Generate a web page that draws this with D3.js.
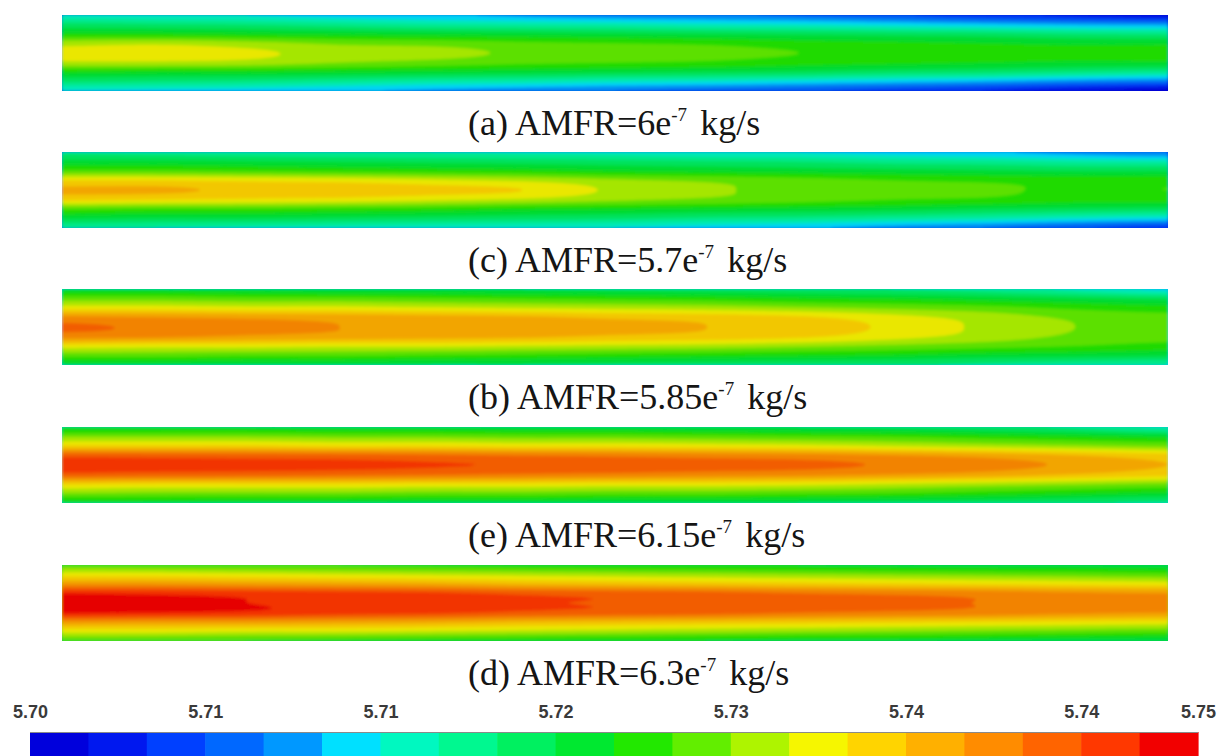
<!DOCTYPE html>
<html>
<head>
<meta charset="utf-8">
<script src="https://cdn.jsdelivr.net/npm/d3@7"></script>
<style>
  html, body { margin: 0; padding: 0; background: #ffffff; }
  svg { display: block; }
</style>
</head>
<body>
<svg id="chart" width="1223" height="756"></svg>
<script>
// ---- Panel captions (in drawing order, top to bottom) ----
const panelTags   = ["(a)", "(c)", "(b)", "(e)", "(d)"];
const amfrMantissa = ["6", "5.7", "5.85", "6.15", "6.3"];
const amfrExponent = "-7";
const amfrUnit = "kg/s";

// ---- Colour legend ----
const legendMin = 5.70;
const legendMax = 5.75;
const legendStep = 0.0025;                     // 20 contour levels
const legendTickValues = [5.70, 5.7075, 5.715, 5.7225, 5.73, 5.7375, 5.745, 5.75];
const legendTickLabels = ["5.70", "5.71", "5.71", "5.72", "5.73", "5.74", "5.74", "5.75"];
const levelColors = [
  "#0000dc", "#0018ef", "#0040ff", "#0068ff", "#0098ff",
  "#00e0ff", "#00f8c0", "#00f890", "#00f060", "#00e830",
  "#22e800", "#62ee00", "#aef400", "#f6f600", "#ffd400",
  "#ffb000", "#ff8c00", "#ff6400", "#ff3800", "#f20000"
];

// ---- Field samples: 9 radial rows (wall -> axis -> wall) x 13 axial stations ----
const axialStations  = [0, 1, 2, 3, 4, 5, 6, 7, 8, 9, 10, 11, 12];
const radialStations = [0, 1, 2, 3, 4, 5, 6, 7, 8];

const fieldA = [
  [5.7160, 5.7155, 5.7150, 5.7140, 5.7130, 5.7120, 5.7110, 5.7105, 5.7095, 5.7080, 5.7060, 5.7045, 5.7030],
  [5.7210, 5.7205, 5.7200, 5.7190, 5.7180, 5.7175, 5.7170, 5.7160, 5.7155, 5.7145, 5.7135, 5.7125, 5.7120],
  [5.7255, 5.7255, 5.7250, 5.7245, 5.7240, 5.7235, 5.7230, 5.7225, 5.7220, 5.7215, 5.7210, 5.7200, 5.7195],
  [5.7315, 5.7320, 5.7310, 5.7295, 5.7290, 5.7280, 5.7275, 5.7270, 5.7260, 5.7255, 5.7250, 5.7245, 5.7245],
  [5.7335, 5.7335, 5.7330, 5.7315, 5.7310, 5.7295, 5.7290, 5.7285, 5.7275, 5.7265, 5.7260, 5.7260, 5.7265],
  [5.7320, 5.7320, 5.7315, 5.7300, 5.7290, 5.7280, 5.7275, 5.7270, 5.7260, 5.7255, 5.7250, 5.7245, 5.7245],
  [5.7255, 5.7250, 5.7250, 5.7245, 5.7240, 5.7235, 5.7230, 5.7225, 5.7220, 5.7210, 5.7205, 5.7195, 5.7185],
  [5.7205, 5.7200, 5.7195, 5.7185, 5.7175, 5.7170, 5.7160, 5.7155, 5.7145, 5.7135, 5.7125, 5.7110, 5.7100],
  [5.7150, 5.7145, 5.7140, 5.7130, 5.7120, 5.7110, 5.7100, 5.7090, 5.7080, 5.7065, 5.7050, 5.7030, 5.7015]
];

const fieldC = [
  [5.7195, 5.7190, 5.7185, 5.7180, 5.7175, 5.7170, 5.7165, 5.7155, 5.7150, 5.7140, 5.7130, 5.7115, 5.7100],
  [5.7235, 5.7235, 5.7230, 5.7225, 5.7220, 5.7215, 5.7210, 5.7205, 5.7200, 5.7190, 5.7185, 5.7175, 5.7170],
  [5.7280, 5.7280, 5.7275, 5.7270, 5.7265, 5.7260, 5.7250, 5.7245, 5.7240, 5.7235, 5.7230, 5.7225, 5.7225],
  [5.7350, 5.7350, 5.7345, 5.7340, 5.7330, 5.7320, 5.7305, 5.7295, 5.7285, 5.7275, 5.7270, 5.7265, 5.7265],
  [5.7380, 5.7380, 5.7370, 5.7370, 5.7360, 5.7350, 5.7320, 5.7305, 5.7290, 5.7285, 5.7280, 5.7270, 5.7275],
  [5.7355, 5.7350, 5.7345, 5.7340, 5.7330, 5.7320, 5.7305, 5.7295, 5.7285, 5.7275, 5.7270, 5.7260, 5.7260],
  [5.7280, 5.7275, 5.7275, 5.7270, 5.7265, 5.7255, 5.7250, 5.7245, 5.7240, 5.7235, 5.7225, 5.7220, 5.7215],
  [5.7230, 5.7225, 5.7225, 5.7220, 5.7215, 5.7210, 5.7205, 5.7195, 5.7190, 5.7180, 5.7170, 5.7155, 5.7145],
  [5.7180, 5.7175, 5.7170, 5.7165, 5.7160, 5.7155, 5.7150, 5.7140, 5.7130, 5.7115, 5.7100, 5.7080, 5.7060]
];

const fieldB = [
  [5.7240, 5.7240, 5.7235, 5.7230, 5.7230, 5.7225, 5.7220, 5.7215, 5.7210, 5.7200, 5.7190, 5.7170, 5.7145],
  [5.7290, 5.7290, 5.7285, 5.7285, 5.7280, 5.7275, 5.7270, 5.7265, 5.7255, 5.7250, 5.7240, 5.7230, 5.7220],
  [5.7340, 5.7340, 5.7335, 5.7335, 5.7330, 5.7325, 5.7320, 5.7315, 5.7305, 5.7295, 5.7285, 5.7270, 5.7260],
  [5.7405, 5.7400, 5.7395, 5.7390, 5.7385, 5.7380, 5.7370, 5.7365, 5.7355, 5.7335, 5.7315, 5.7295, 5.7285],
  [5.7430, 5.7420, 5.7410, 5.7400, 5.7395, 5.7390, 5.7385, 5.7375, 5.7365, 5.7345, 5.7320, 5.7300, 5.7290],
  [5.7410, 5.7405, 5.7395, 5.7390, 5.7385, 5.7380, 5.7370, 5.7365, 5.7355, 5.7335, 5.7315, 5.7295, 5.7285],
  [5.7340, 5.7335, 5.7335, 5.7330, 5.7330, 5.7325, 5.7320, 5.7315, 5.7305, 5.7295, 5.7285, 5.7275, 5.7265],
  [5.7285, 5.7285, 5.7280, 5.7280, 5.7275, 5.7270, 5.7265, 5.7260, 5.7255, 5.7250, 5.7240, 5.7235, 5.7230],
  [5.7235, 5.7235, 5.7230, 5.7230, 5.7225, 5.7225, 5.7220, 5.7215, 5.7210, 5.7205, 5.7195, 5.7185, 5.7175]
];

const fieldE = [
  [5.7245, 5.7245, 5.7245, 5.7240, 5.7240, 5.7235, 5.7235, 5.7230, 5.7225, 5.7220, 5.7210, 5.7195, 5.7170],
  [5.7300, 5.7300, 5.7300, 5.7295, 5.7295, 5.7290, 5.7290, 5.7285, 5.7280, 5.7275, 5.7265, 5.7255, 5.7245],
  [5.7355, 5.7355, 5.7355, 5.7350, 5.7350, 5.7345, 5.7345, 5.7340, 5.7335, 5.7325, 5.7315, 5.7305, 5.7295],
  [5.7440, 5.7438, 5.7435, 5.7432, 5.7428, 5.7422, 5.7418, 5.7412, 5.7408, 5.7400, 5.7390, 5.7375, 5.7360],
  [5.7465, 5.7462, 5.7460, 5.7458, 5.7452, 5.7448, 5.7442, 5.7438, 5.7432, 5.7422, 5.7410, 5.7395, 5.7375],
  [5.7440, 5.7436, 5.7434, 5.7430, 5.7426, 5.7420, 5.7416, 5.7410, 5.7406, 5.7398, 5.7388, 5.7372, 5.7358],
  [5.7355, 5.7350, 5.7350, 5.7350, 5.7345, 5.7345, 5.7340, 5.7340, 5.7335, 5.7325, 5.7315, 5.7305, 5.7295],
  [5.7300, 5.7295, 5.7295, 5.7295, 5.7290, 5.7290, 5.7285, 5.7285, 5.7280, 5.7275, 5.7265, 5.7255, 5.7245],
  [5.7245, 5.7245, 5.7240, 5.7240, 5.7235, 5.7235, 5.7230, 5.7230, 5.7225, 5.7220, 5.7215, 5.7205, 5.7195]
];

const fieldD = [
  [5.7290, 5.7285, 5.7280, 5.7275, 5.7270, 5.7265, 5.7260, 5.7255, 5.7250, 5.7245, 5.7240, 5.7240, 5.7235],
  [5.7340, 5.7340, 5.7335, 5.7330, 5.7325, 5.7320, 5.7315, 5.7310, 5.7305, 5.7300, 5.7295, 5.7290, 5.7285],
  [5.7400, 5.7400, 5.7395, 5.7390, 5.7385, 5.7375, 5.7370, 5.7365, 5.7360, 5.7355, 5.7350, 5.7345, 5.7340],
  [5.7475, 5.7470, 5.7465, 5.7460, 5.7455, 5.7445, 5.7440, 5.7435, 5.7425, 5.7420, 5.7415, 5.7405, 5.7400],
  [5.7490, 5.7485, 5.7475, 5.7465, 5.7460, 5.7452, 5.7448, 5.7442, 5.7436, 5.7430, 5.7424, 5.7414, 5.7405],
  [5.7480, 5.7475, 5.7470, 5.7460, 5.7455, 5.7445, 5.7440, 5.7435, 5.7425, 5.7420, 5.7415, 5.7405, 5.7400],
  [5.7400, 5.7395, 5.7395, 5.7390, 5.7385, 5.7375, 5.7370, 5.7365, 5.7360, 5.7355, 5.7350, 5.7345, 5.7340],
  [5.7335, 5.7335, 5.7330, 5.7330, 5.7325, 5.7320, 5.7315, 5.7310, 5.7305, 5.7300, 5.7295, 5.7290, 5.7285],
  [5.7285, 5.7280, 5.7275, 5.7270, 5.7265, 5.7260, 5.7255, 5.7250, 5.7245, 5.7245, 5.7240, 5.7235, 5.7230]
];

const panelFields = [fieldA, fieldC, fieldB, fieldE, fieldD];

// ---- Layout ----
const stripLeft = 62, stripRight = 1168, stripHeight = 76;
const stripTops = [15, 152, 289, 427, 565];
const captionX = 468, captionGap = 44;
const barLeft = 30, barRight = 1198, barTop = 732, barHeight = 30;

const svg = d3.select("#chart");
const defs = svg.append("defs");

// soft, slightly shaded look of the contour strips
const soften = defs.append("filter")
    .attr("id", "soften")
    .attr("x", "-2%").attr("y", "-10%").attr("width", "104%").attr("height", "120%");
soften.append("feGaussianBlur")
    .attr("stdDeviation", 1.4)
    .attr("result", "blur");
soften.append("feColorMatrix")
    .attr("in", "blur")
    .attr("type", "matrix")
    .attr("values", "0.89 0 0 0 0  0 0.87 0 0 0  0 0 0.9 0 0  0 0 0 1 0");

// Contour levels and their colours
const thresholds = d3.range(levelColors.length).map(i => +(legendMin + i * legendStep).toFixed(6));
const levelColor = d3.scaleThreshold()
    .domain(thresholds.slice(1))
    .range(levelColors);

// Catmull-Rom sampling of the station grid onto a fine raster for contouring
function cubic(p0, p1, p2, p3, t) {
  const t2 = t * t, t3 = t2 * t;
  return 0.5 * ((2 * p1) + (-p0 + p2) * t + (2 * p0 - 5 * p1 + 4 * p2 - p3) * t2 + (-p0 + 3 * p1 - 3 * p2 + p3) * t3);
}
function sampleRow(row, gx) {
  const n = row.length;
  const i = Math.min(Math.floor(gx), n - 2);
  const t = gx - i;
  const g = k => row[Math.max(0, Math.min(n - 1, k))];
  return cubic(g(i - 1), g(i), g(i + 1), g(i + 2), t);
}
function sampleGrid(grid, gx, gy) {
  const n = grid.length;
  const j = Math.min(Math.floor(gy), n - 2);
  const t = gy - j;
  const r = k => sampleRow(grid[Math.max(0, Math.min(n - 1, k))], gx);
  return cubic(r(j - 1), r(j), r(j + 1), r(j + 2), t);
}

const rasterW = 553, rasterH = 48;
const gxScale = d3.scaleLinear().domain([0, rasterW - 1]).range([axialStations[0], axialStations[axialStations.length - 1]]);
const gyScale = d3.scaleLinear().domain([0, rasterH - 1]).range([radialStations[0], radialStations[radialStations.length - 1]]);

panelFields.forEach((field, p) => {
  const top = stripTops[p];
  const x = d3.scaleLinear().domain([0, rasterW]).range([stripLeft, stripRight]);
  const y = d3.scaleLinear().domain([0, rasterH]).range([top, top + stripHeight]);

  const values = new Float64Array(rasterW * rasterH);
  for (let j = 0; j < rasterH; j++) {
    for (let i = 0; i < rasterW; i++) {
      values[j * rasterW + i] = sampleGrid(field, gxScale(i), gyScale(j));
    }
  }

  const contours = d3.contours()
      .size([rasterW, rasterH])
      .thresholds(thresholds)
      .smooth(true)(values);

  const projection = d3.geoTransform({
    point: function(px, py) { this.stream.point(x(px), y(py)); }
  });
  const path = d3.geoPath(projection);

  const clipId = "clip-" + p;
  defs.append("clipPath").attr("id", clipId)
    .append("rect")
      .attr("x", stripLeft).attr("y", top)
      .attr("width", stripRight - stripLeft).attr("height", stripHeight);

  const strip = svg.append("g").attr("clip-path", `url(#${clipId})`);
  const inner = strip.append("g").attr("filter", "url(#soften)");
  // base fill so the blur has no transparent fringe inside the strip
  inner.append("rect")
      .attr("x", stripLeft - 4).attr("y", top - 4)
      .attr("width", stripRight - stripLeft + 8).attr("height", stripHeight + 8)
      .attr("fill", levelColor(d3.min(values)));
  inner.selectAll("path")
    .data(contours)
    .join("path")
      .attr("d", path)
      .attr("fill", d => levelColor(d.value))
      .attr("stroke", d => levelColor(d.value))
      .attr("stroke-width", 0.6);

  // caption
  const cap = svg.append("text")
      .attr("x", captionX)
      .attr("y", top + stripHeight + captionGap)
      .attr("font-family", "'Liberation Serif', 'Times New Roman', serif")
      .attr("font-size", 36)
      .attr("fill", "#151515")
      .style("white-space", "pre");
  cap.append("tspan").text(`${panelTags[p]} AMFR=${amfrMantissa[p]}e`);
  cap.append("tspan").attr("font-size", 19).attr("dy", -14).text(amfrExponent);
  cap.append("tspan").attr("dy", 14).attr("dx", 4).text(" " + amfrUnit);
});

// ---- Colour legend bar ----
const cx = d3.scaleLinear().domain([legendMin, legendMax]).range([barLeft, barRight]);
svg.append("g")
  .selectAll("rect")
  .data(thresholds)
  .join("rect")
    .attr("x", d => cx(d))
    .attr("y", barTop)
    .attr("width", d => cx(d + legendStep) - cx(d) + 0.6)
    .attr("height", barHeight)
    .attr("fill", d => levelColor(d));

svg.append("line")
    .attr("x1", barLeft).attr("x2", barRight)
    .attr("y1", barTop + 0.5).attr("y2", barTop + 0.5)
    .attr("stroke", "#8a8a8a").attr("stroke-width", 1);

const axis = d3.axisTop(cx)
    .tickValues(legendTickValues)
    .tickFormat((d, i) => legendTickLabels[i])
    .tickSize(0)
    .tickPadding(14);

const axisG = svg.append("g")
    .attr("transform", `translate(0,${barTop})`)
    .call(axis);
axisG.select(".domain").remove();
axisG.selectAll("text")
    .attr("font-family", "'Liberation Sans', Arial, sans-serif")
    .attr("font-size", 18)
    .attr("font-weight", "bold")
    .attr("fill", "#3a3a3a");
</script>
</body>
</html>
